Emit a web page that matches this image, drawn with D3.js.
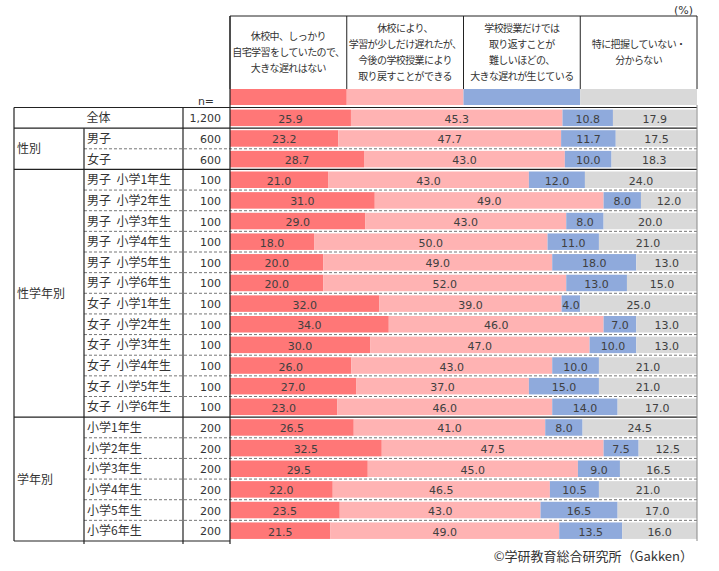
<!DOCTYPE html>
<html>
<head>
<meta charset="utf-8">
<script src="https://cdn.jsdelivr.net/npm/d3@7"></script>
<style>
  body { margin: 0; background: #fff; }
  text { font-family: "Noto Sans CJK JP", "Noto Sans", sans-serif; }
  text.num { font-family: "DejaVu Sans", "Noto Sans CJK JP", sans-serif; }
</style>
</head>
<body>
<svg id="chart" width="719" height="571"></svg>
<script>
// answer categories (header texts, one array of lines per column)
var headers = [
  ["休校中、しっかり", "自宅学習をしていたので、", "大きな遅れはない"],
  ["休校により、", "学習が少しだけ遅れたが、", "今後の学校授業により", "取り戻すことができる"],
  ["学校授業だけでは", "取り返すことが", "難しいほどの、", "大きな遅れが生じている"],
  ["特に把握していない・", "分からない"]
];
var colors = ["#ff7777", "#ffb3b3", "#8faadc", "#d9d9d9"];

// rows
var groups = ["全体", "性別", "性別",
  "性学年別", "性学年別", "性学年別", "性学年別", "性学年別", "性学年別",
  "性学年別", "性学年別", "性学年別", "性学年別", "性学年別", "性学年別",
  "学年別", "学年別", "学年別", "学年別", "学年別", "学年別"];
var rowLabels = ["全体", "男子", "女子",
  "男子  小学1年生", "男子  小学2年生", "男子  小学3年生", "男子  小学4年生", "男子  小学5年生", "男子  小学6年生",
  "女子  小学1年生", "女子  小学2年生", "女子  小学3年生", "女子  小学4年生", "女子  小学5年生", "女子  小学6年生",
  "小学1年生", "小学2年生", "小学3年生", "小学4年生", "小学5年生", "小学6年生"];
var nValues = ["1,200", "600", "600",
  "100", "100", "100", "100", "100", "100",
  "100", "100", "100", "100", "100", "100",
  "200", "200", "200", "200", "200", "200"];

// series values (%)
var noDelay    = [25.9, 23.2, 28.7, 21.0, 31.0, 29.0, 18.0, 20.0, 20.0, 32.0, 34.0, 30.0, 26.0, 27.0, 23.0, 26.5, 32.5, 29.5, 22.0, 23.5, 21.5];
var smallDelay = [45.3, 47.7, 43.0, 43.0, 49.0, 43.0, 50.0, 49.0, 52.0, 39.0, 46.0, 47.0, 43.0, 37.0, 46.0, 41.0, 47.5, 45.0, 46.5, 43.0, 49.0];
var bigDelay   = [10.8, 11.7, 10.0, 12.0, 8.0, 8.0, 11.0, 18.0, 13.0, 4.0, 7.0, 10.0, 10.0, 15.0, 14.0, 8.0, 7.5, 9.0, 10.5, 16.5, 13.5];
var unknown    = [17.9, 17.5, 18.3, 24.0, 12.0, 20.0, 21.0, 13.0, 15.0, 25.0, 13.0, 13.0, 21.0, 21.0, 17.0, 24.5, 12.5, 16.5, 21.0, 17.0, 16.0];

var svg = d3.select("#chart");

var colGroup = 14, colLabel = 84, colN = 183, barLeft = 230, barRight = 697;
var headTop = 16, headBottom = 89, swatchBottom = 105;
var tableTop = 107.5, tableBottom = 541;

var x = d3.scaleLinear().domain([0, 100]).range([barLeft, barRight]);
var y = d3.scaleBand().domain(d3.range(rowLabels.length))
  .range([tableTop, tableBottom]).paddingInner(0.2).paddingOuter(0.1);
var step = y.step();
function rowTop(i) { return tableTop + i * step; }

var hx = d3.scaleBand().domain(d3.range(headers.length)).range([barLeft, barRight]);

// stacked data
var table = rowLabels.map(function(d, i) {
  return { label: d, group: groups[i], n: nValues[i],
    s0: noDelay[i], s1: smallDelay[i], s2: bigDelay[i], s3: unknown[i] };
});
var stack = d3.stack().keys(["s0", "s1", "s2", "s3"]);
var series = stack(table);

// header
var head = svg.append("g");
head.append("line").attr("x1", barLeft).attr("x2", barRight).attr("y1", headTop).attr("y2", headTop)
  .attr("stroke", "#222");
headers.forEach(function(lines, k) {
  var cx = hx(k) + hx.bandwidth() / 2;
  var lh = 15.7;
  var mid = 52;
  var t = head.append("text").attr("text-anchor", "middle").attr("font-size", 10)
    .attr("letter-spacing", -0.6).attr("fill", "#333");
  lines.forEach(function(l, j) {
    t.append("tspan").attr("x", cx)
      .attr("y", mid + (j - (lines.length - 1) / 2) * lh + 4)
      .text(l);
  });
  head.append("rect").attr("x", hx(k)).attr("y", headBottom)
    .attr("width", hx.bandwidth()).attr("height", swatchBottom - headBottom)
    .attr("fill", colors[k]);
});
d3.range(headers.length + 1).forEach(function(k) {
  var xx = barLeft + k * hx.bandwidth();
  head.append("line").attr("x1", xx).attr("x2", xx).attr("y1", headTop).attr("y2", headBottom)
    .attr("stroke", "#222");
});

svg.append("text").attr("class", "num").attr("x", 693).attr("y", 14).attr("text-anchor", "end")
  .attr("font-size", 11).attr("fill", "#333").text("(%)");
svg.append("text").attr("class", "num").attr("x", 206).attr("y", 105).attr("text-anchor", "middle")
  .attr("font-size", 11).attr("fill", "#333").text("n=");

// bars
var bars = svg.append("g");
series.forEach(function(s, k) {
  bars.selectAll(".seg" + k).data(s).enter().append("rect")
    .attr("x", function(d) { return x(d[0]); })
    .attr("y", function(d, i) { return y(i); })
    .attr("width", function(d) { return x(d[1]) - x(d[0]); })
    .attr("height", y.bandwidth())
    .attr("fill", colors[k]);
  bars.selectAll(".lab" + k).data(s).enter().append("text")
    .attr("class", "num")
    .attr("x", function(d) { return (x(d[0]) + x(d[1])) / 2; })
    .attr("y", function(d, i) { return y(i) + y.bandwidth() / 2 + 5; })
    .attr("text-anchor", "middle").attr("font-size", 11).attr("fill", "#404040")
    .text(function(d) { return (d[1] - d[0]).toFixed(1); });
});

// table text
var txt = svg.append("g").attr("font-size", 12).attr("fill", "#333");
table.forEach(function(d, i) {
  var ty = rowTop(i) + step / 2 + 4.5;
  if (d.group === "全体") {
    txt.append("text").attr("x", (colGroup + colN) / 2).attr("y", ty)
      .attr("text-anchor", "middle").text(d.label);
  } else {
    txt.append("text").attr("x", colLabel + 3).attr("y", ty)
      .style("white-space", "pre").text(d.label);
  }
  txt.append("text").attr("class", "num").attr("font-size", 11)
    .attr("x", 221).attr("y", ty).attr("text-anchor", "end").text(d.n);
});

// group labels
var groupNames = ["性別", "性学年別", "学年別"];
groupNames.forEach(function(g) {
  var idx = groups.map(function(v, i) { return v === g ? i : -1; }).filter(function(i) { return i >= 0; });
  var mid = (rowTop(idx[0]) + rowTop(idx[idx.length - 1] + 1)) / 2;
  txt.append("text").attr("x", colGroup + 3).attr("y", mid + 4.5).text(g);
});

// grid lines
var grid = svg.append("g");
for (var i = 0; i <= rowLabels.length; i++) {
  var yy = rowTop(i);
  var groupEdge = i === 0 || i === rowLabels.length || groups[i] !== groups[i - 1];
  if (groupEdge) {
    grid.append("line").attr("x1", colGroup).attr("y1", yy)
      .attr("x2", i === rowLabels.length ? barLeft : barRight).attr("y2", yy)
      .attr("stroke", "#222").attr("stroke-width", 1.2);
  } else {
    grid.append("line").attr("x1", colLabel).attr("y1", yy).attr("x2", barRight).attr("y2", yy)
      .attr("stroke", "#777").attr("stroke-dasharray", "3,2");
  }
}
[[colGroup, tableTop, tableBottom], [colLabel, rowTop(1), tableBottom + 3],
 [colN, tableTop, tableBottom + 3], [barLeft, headTop, tableBottom + 3]].forEach(function(v) {
  grid.append("line").attr("x1", v[0]).attr("x2", v[0]).attr("y1", v[1]).attr("y2", v[2])
    .attr("stroke", "#222").attr("stroke-width", 1.2);
});
grid.append("line").attr("x1", barRight).attr("x2", barRight).attr("y1", swatchBottom).attr("y2", tableBottom)
  .attr("stroke", "#888");

svg.append("text").attr("x", 693).attr("y", 561).attr("text-anchor", "end")
  .attr("font-size", 13).attr("fill", "#333").text("©学研教育総合研究所（Gakken）");
</script>
</body>
</html>
